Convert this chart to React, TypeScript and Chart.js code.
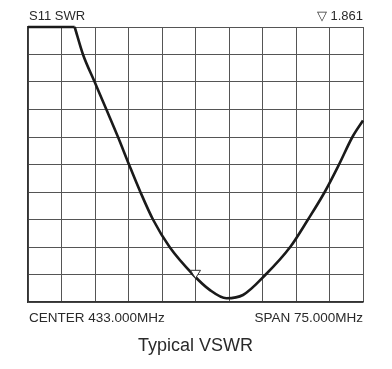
import React, { useEffect, useRef } from "react";
import { Chart, registerables } from "chart.js";

Chart.register(...registerables);

// trace (MHz, VSWR); 11 = top of screen (saturated)
const freqMHz = [395.5, 405.95, 407.81, 410.43, 413.05, 415.65, 418.11, 420.66, 423.48, 427.2, 432.44, 436.18, 439.92, 443.63, 448.72, 454.2, 458.19, 461.93, 465.13, 468.13, 470.5];
const vswr = [11, 11, 10, 9, 8, 7, 6, 5, 4, 3, 2, 1.44, 1.135, 1.255, 2, 3, 4, 5, 6, 7, 7.6];

const markerFreq = 433.0;
const markerValue = 1.861;

const traceName = "S11 SWR";
const centerLabel = "CENTER 433.000MHz";
const spanLabel = "SPAN 75.000MHz";
const chartTitle = "Typical VSWR";

const xMin = 395.5;
const xMax = 470.5;
const xStep = 7.5;
const yMin = 1;
const yMax = 11;
const yStep = 1;

const textPlugin = {
  id: "vnaText",
  afterDraw(chart: any) {
    const { ctx, chartArea, scales } = chart;
    const x = scales.x;
    const y = scales.y;
    ctx.save();
    // marker triangle
    const px = x.getPixelForValue(markerFreq);
    const py = y.getPixelForValue(markerValue);
    ctx.beginPath();
    ctx.moveTo(px, py);
    ctx.lineTo(px - 5, py - 8);
    ctx.lineTo(px + 5, py - 8);
    ctx.closePath();
    ctx.fillStyle = "#ffffff";
    ctx.fill();
    ctx.lineWidth = 1;
    ctx.strokeStyle = "#333";
    ctx.stroke();

    ctx.fillStyle = "#2a2a2a";
    ctx.textBaseline = "alphabetic";
    ctx.font = "13px 'Liberation Sans', Arial, sans-serif";
    ctx.textAlign = "left";
    ctx.fillText(traceName, chartArea.left + 1, chartArea.top - 7.5);
    ctx.textAlign = "right";
    ctx.fillText("\u25BD " + markerValue.toFixed(3), chartArea.right, chartArea.top - 7.5);

    ctx.font = "13.5px 'Liberation Sans', Arial, sans-serif";
    ctx.textAlign = "left";
    ctx.fillText(centerLabel, chartArea.left + 1, chartArea.bottom + 19.5);
    ctx.textAlign = "right";
    ctx.fillText(spanLabel, chartArea.right, chartArea.bottom + 19.5);

    ctx.font = "18px 'Liberation Sans', Arial, sans-serif";
    ctx.textAlign = "center";
    ctx.fillText(chartTitle, (chartArea.left + chartArea.right) / 2, chartArea.bottom + 48.5);
    ctx.restore();
  },
};

export default function App() {
  const ref = useRef<HTMLCanvasElement | null>(null);
  useEffect(() => {
    if (!ref.current) return;
    const points = freqMHz.map((f, i) => ({ x: f, y: vswr[i] }));
    const lastSaturated = vswr.lastIndexOf(yMax);
    const lineStyle = {
      borderColor: "#1a1a1a",
      borderWidth: 2.6,
      pointRadius: 0,
      fill: false,
      clip: 3,
    };
    const chart = new Chart(ref.current, {
      type: "line",
      data: {
        datasets: [
          { ...lineStyle, data: points.slice(0, lastSaturated + 1), tension: 0 },
          { ...lineStyle, data: points.slice(lastSaturated), cubicInterpolationMode: "monotone" },
        ],
      },
      options: {
        responsive: false,
        animation: false,
        events: [],
        layout: { padding: { left: 28, right: 29, top: 27, bottom: 67 } },
        plugins: { legend: { display: false }, tooltip: { enabled: false }, title: { display: false } },
        scales: {
          x: {
            type: "linear",
            min: xMin,
            max: xMax,
            ticks: { display: false, stepSize: xStep },
            grid: { color: "#555", lineWidth: 1, drawTicks: false },
            border: { color: "#333", width: 1.5 },
          },
          y: {
            type: "linear",
            min: yMin,
            max: yMax,
            ticks: { display: false, stepSize: yStep },
            grid: { color: "#555", lineWidth: 1, drawTicks: false },
            border: { color: "#333", width: 1.5 },
          },
        },
      },
      plugins: [textPlugin],
    } as any);
    return () => chart.destroy();
  }, []);
  return (
    <div style={{ position: "fixed", left: 0, top: 0, width: 392, height: 369, background: "#fff" }}>
      <canvas ref={ref} width={392} height={369} />
    </div>
  );
}
